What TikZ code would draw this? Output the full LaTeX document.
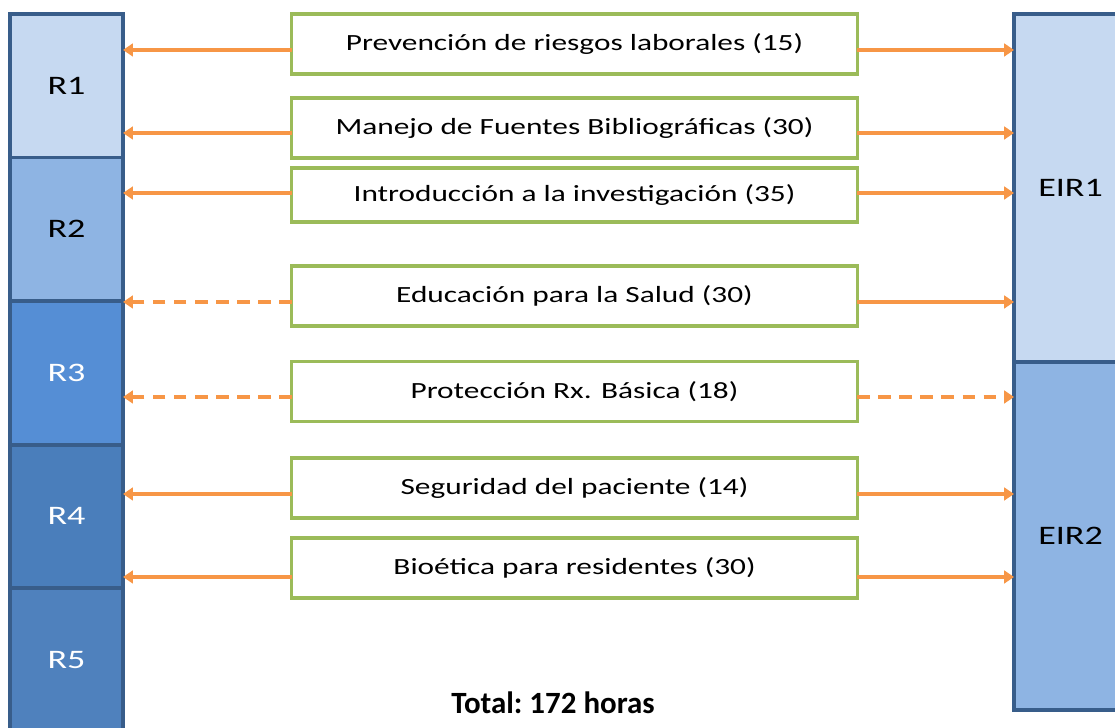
\documentclass[tikz,border=0pt]{standalone}
\usepackage{fontspec}
\setmainfont{Carlito}[FakeStretch=1.35]
\newfontfamily\totalfont{Carlito}
\usetikzlibrary{arrows.meta,positioning}

\definecolor{borde}{HTML}{385D8A}
\definecolor{azulA}{HTML}{C6D9F1}
\definecolor{azulB}{HTML}{8EB4E3}
\definecolor{azulC}{HTML}{558ED5}
\definecolor{azulD}{HTML}{4A7EBB}
\definecolor{azulE}{HTML}{4F81BD}
\definecolor{verde}{HTML}{9BBB59}
\definecolor{naranja}{HTML}{F79646}

\begin{document}
\begin{tikzpicture}[x=.025cm,y=.025cm,
  col/.style={draw=borde,line width=2.7pt,minimum width=2.825cm,outer sep=0pt,
    font=\fontsize{19}{22}\selectfont},
  curso/.style={draw=verde,line width=2.2pt,fill=white,minimum width=14.125cm,
    minimum height=1.5cm,outer sep=0pt,font=\fontsize{16.5}{20}\selectfont},
  flecha/.style={draw=naranja,line width=2.6pt,-{Triangle[length=7pt,width=9pt]}},
  discont/.style={flecha,dash pattern=on 9pt off 6pt}]
  \useasboundingbox (0,0) rectangle (1115,728);

  % residentes
  \node[col,fill=azulA,minimum height=3.5875cm,anchor=north west] (R1) at (10,714) {R1};
  \node[col,fill=azulB,minimum height=3.5875cm,below=0pt of R1] (R2) {R2};
  \node[col,fill=azulC,minimum height=3.5875cm,below=0pt of R2,text=white] (R3) {R3};
  \node[col,fill=azulD,minimum height=3.5875cm,below=0pt of R3,text=white] (R4) {R4};
  \node[col,fill=azulE,minimum height=3.5875cm,below=0pt of R4,text=white] (R5) {R5};

  % enfermeria
  \node[col,fill=azulA,minimum height=8.7cm,anchor=north west] (EIR1) at (1014,714) {EIR1};
  \node[col,fill=azulB,minimum height=8.7cm,below=0pt of EIR1] (EIR2) {EIR2};

  % cursos
  \node[curso] (c1) at (574.5,684) {Prevención de riesgos laborales (15)};
  \node[curso] (c2) at (574.5,600) {Manejo de Fuentes Bibliográficas (30)};
  \node[curso,minimum height=1.35cm] (c3) at (574.5,533) {Introducción a la investigación (35)};
  \node[curso] (c4) at (574.5,432) {Educación para la Salud (30)};
  \node[curso] (c5) at (574.5,336.5) {Protección Rx. Básica (18)};
  \node[curso] (c6) at (574.5,240) {Seguridad del paciente (14)};
  \node[curso] (c7) at (574.5,160) {Bioética para residentes (30)};

  \foreach \c/\d/\l/\r in {c1/6/flecha/flecha,c2/5/flecha/flecha,c3/-2/flecha/flecha,
      c4/6/discont/flecha,c5/5.5/discont/discont,c6/6/flecha/flecha,c7/9/flecha/flecha} {
    \draw[\l] ([yshift=-\d*0.71pt]\c.west) -- ([yshift=-\d*0.71pt]\c.west -| R1.east);
    \draw[\r] ([yshift=-\d*0.71pt]\c.east) -- ([yshift=-\d*0.71pt]\c.east -| EIR1.west);
  }

  \node[font=\totalfont\bfseries\fontsize{22}{26}\selectfont\frenchspacing] (total) at (553,25) {Total: 172 horas};
\end{tikzpicture}
\end{document}
